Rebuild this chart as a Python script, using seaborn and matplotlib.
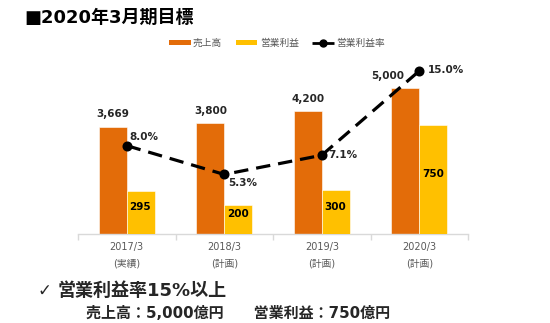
import matplotlib
matplotlib.use("Agg")
import matplotlib.pyplot as plt
import seaborn as sns
import pandas as pd
from matplotlib.lines import Line2D
from matplotlib.patches import Patch

# ---- data ----
years = ["2017/3", "2018/3", "2019/3", "2020/3"]
year_notes = ["(実績)", "(計画)", "(計画)", "(計画)"]
sales = [3669, 3800, 4200, 5000]
op_profit = [295, 200, 300, 750]
op_margin = [8.0, 5.3, 7.1, 15.0]
sales_labels = ["3,669", "3,800", "4,200", "5,000"]
profit_labels = ["295", "200", "300", "750"]
margin_labels = ["8.0%", "5.3%", "7.1%", "15.0%"]
series_names = ["売上高", "営業利益", "営業利益率"]

ORANGE = "#E36C09"
YELLOW = "#FFC000"
JP = ["Noto Sans CJK JP", "DejaVu Sans"]
LAT = ["DejaVu Sans", "Noto Sans CJK JP"]

sns.set_theme(style="white")
plt.rcParams["font.family"] = LAT

fig = plt.figure(figsize=(5.5, 3.23), dpi=100)
ax1 = fig.add_axes([78 / 550, (323 - 234) / 323, 390 / 550, 175 / 323])
ax2 = ax1.twinx()
ax3 = ax1.twinx()

df_sales = pd.DataFrame({"year": years, "value": sales, "series": series_names[0]})
df_prof = pd.DataFrame({"year": years, "value": op_profit, "series": series_names[1]})
df_rate = pd.DataFrame({"year": years, "rate": op_margin})

hue_order = series_names[:2]
pal = {series_names[0]: ORANGE, series_names[1]: YELLOW}

sns.barplot(data=df_sales, x="year", y="value", hue="series", hue_order=hue_order,
            order=years, palette=pal, width=0.575, dodge=True, ax=ax1, legend=False,
            edgecolor="white", linewidth=0.4, saturation=1)
sns.barplot(data=df_prof, x="year", y="value", hue="series", hue_order=hue_order,
            order=years, palette=pal, width=0.575, dodge=True, ax=ax2, legend=False,
            edgecolor="white", linewidth=0.4, saturation=1)
sns.pointplot(data=df_rate, x="year", y="rate", order=years, color="black",
              linestyles="--", markers="o", ax=ax3, markersize=5.5, linewidth=2.3)
for l in ax3.lines:
    l.set_dashes([4.5, 2.5])

ax1.set_ylim(0, 6000)
ax2.set_ylim(0, 1200)
ax3.set_ylim(-0.28, 16.12)
for a in (ax1, ax2, ax3):
    a.set_xlim(-0.5, 3.5)
    a.set_ylabel("")
    a.set_xlabel("")
    a.set_yticks([])
    for s in ("top", "right", "left"):
        a.spines[s].set_visible(False)
    a.patch.set_visible(False)
for a in (ax2, ax3):
    a.spines["bottom"].set_visible(False)
ax1.spines["bottom"].set_color("#D9D9D9")
ax1.spines["bottom"].set_linewidth(1.0)

ax1.set_xticks(range(len(years)))
ax1.set_xticklabels([f"{y}\n{n}" for y, n in zip(years, year_notes)],
                    fontsize=7, color="#595959", linespacing=1.75, family=LAT)
ax1.tick_params(axis="x", which="major", length=0, pad=6)
ax1.set_xticks([i - 0.5 for i in range(len(years) + 1)], minor=True)
ax1.tick_params(axis="x", which="minor", length=4, color="#D9D9D9", width=1, bottom=True)

# data labels
for i, (v, t) in enumerate(zip(sales, sales_labels)):
    dx = -0.32 if i == 3 else -0.14
    ax1.annotate(t, (i + dx, v), xytext=(0, 5.5), textcoords="offset points",
                 ha="center", va="bottom", fontsize=7.5, fontweight="bold", color="#262626")
for i, (v, t) in enumerate(zip(op_profit, profit_labels)):
    ax2.text(i + 0.14, v / 2, t, ha="center", va="bottom", fontsize=7.5,
             fontweight="bold", color="black")
offs = [(2, 6), (3, -6), (5, 0), (6, 1)]
for i, (v, t) in enumerate(zip(op_margin, margin_labels)):
    ax3.annotate(t, (i, v), xytext=offs[i], textcoords="offset points",
                 ha="left", va="center", fontsize=7.5, fontweight="bold", color="#262626")

# title
fig.text(24 / 550, 1 - 18 / 323, "■2020年3月期目標", fontsize=13, fontweight="bold",
         family=LAT, va="center", ha="left", color="black")

# legend
handles = [Patch(facecolor=ORANGE, edgecolor="none"),
           Patch(facecolor=YELLOW, edgecolor="none"),
           Line2D([0], [0], color="black", linestyle="--", marker="o", markersize=5,
                  linewidth=2, dashes=[3, 2])]
leg = fig.legend(handles, series_names, loc="center", bbox_to_anchor=(277 / 550, 1 - 43 / 323),
                 ncol=3, frameon=False, prop={"family": JP, "size": 7},
                 handlelength=2.2, handleheight=0.5, handletextpad=0.25, columnspacing=1.4)
for t in leg.get_texts():
    t.set_color("#595959")

# bottom text
fig.text(37 / 550, 1 - 291 / 323, "✓", fontsize=12, fontweight="bold",
         family=["DejaVu Sans"], va="center", ha="left")
fig.text(58 / 550, 1 - 291 / 323, "営業利益率15%以上", fontsize=13, fontweight="bold",
         family=LAT, va="center", ha="left")
fig.text(86 / 550, 1 - 314 / 323, "売上高：5,000億円　　営業利益：750億円", fontsize=10.8,
         fontweight="bold", family=LAT, va="center", ha="left")

fig.savefig("out.png", dpi=100)
